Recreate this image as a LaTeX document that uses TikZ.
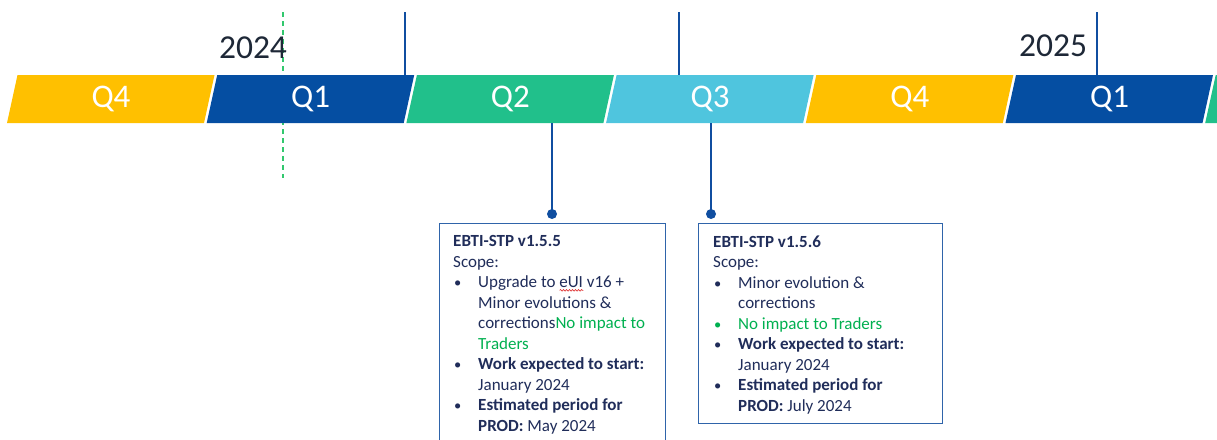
\documentclass[tikz,border=0pt]{standalone}
\usepackage{fontspec}
\setmainfont{Carlito}
\usetikzlibrary{decorations.pathmorphing}
\definecolor{qyellow}{RGB}{255,192,0}
\definecolor{qblue}{RGB}{5,78,162}
\definecolor{qgreen}{RGB}{33,192,139}
\definecolor{qcyan}{RGB}{79,197,222}
\definecolor{linecol}{RGB}{16,78,160}
\definecolor{dashgreen}{RGB}{50,200,110}
\definecolor{boxcol}{RGB}{47,100,170}
\definecolor{navy}{RGB}{32,45,90}
\definecolor{yearcol}{RGB}{30,40,55}
\definecolor{okgreen}{RGB}{0,176,80}
\definecolor{spellred}{RGB}{220,30,30}
\newsavebox{\spbox}
\newcommand{\spellerr}[1]{\sbox{\spbox}{#1}\rlap{\tikz[baseline=0pt]\draw[spellred,line width=0.6pt,decorate,decoration={snake,amplitude=0.8pt,segment length=3pt}] (0pt,-2.5pt) -- (\wd\spbox,-2.5pt);}#1}
\newcommand{\bitem}[1]{\makebox[25pt][l]{\hspace{1pt}{\fontsize{14.5}{14.5}\selectfont•}}#1}
\newcommand{\cont}[1]{\hspace*{25pt}#1}
\begin{document}
\begin{tikzpicture}[x=1pt,y=-1pt,
  qlabel/.style={text=white,font=\fontsize{33}{33}\selectfont,inner sep=0pt},
  yearlabel/.style={text=yearcol,font=\fontsize{33.5}{33}\selectfont,inner sep=0pt},
  tick/.style={draw=linecol,line width=2pt},
  dashline/.style={draw=dashgreen,line width=1.6pt,dash pattern=on 5pt off 4pt},
  dot/.style={circle,fill=linecol,inner sep=0pt,minimum size=10pt},
  infobox/.style={draw=boxcol,line width=1.4pt,fill=white,anchor=north west,inner sep=0pt},
  boxtext/.style={anchor=north west,inner sep=0pt,align=left,text=navy,font=\fontsize{17}{20.5}\selectfont}
]
\useasboundingbox (0,0) rectangle (1217,439);
\clip (0,0) rectangle (1217,439);
% green dashed year marker
\coordinate (g1) at (283,12);
\coordinate (g2) at (283,178);
\draw[dashline] (g1) -- (g2);
% quarter bar
\foreach \i/\c in {0/qyellow,1/qblue,2/qgreen,3/qcyan,4/qyellow,5/qblue,6/qgreen}{
  \pgfmathsetmacro\a{17.5+199.7*\i}
  \fill[\c] (\a,75) -- (\a+197,75) -- (\a+186.5,123) -- (\a-10.5,123) -- cycle;
}
\node[qlabel] (q0) at (111,99) {Q4};
\node[qlabel] (q1) at (310.7,99) {Q1};
\node[qlabel] (q2) at (510.4,99) {Q2};
\node[qlabel] (q3) at (710.1,99) {Q3};
\node[qlabel] (q4) at (909.8,99) {Q4};
\node[qlabel] (q5) at (1109.5,99) {Q1};
% years
\node[yearlabel] (y24) at (253,48) {2024};
\node[yearlabel] (y25) at (1053,46) {2025};
% top ticks
\coordinate (t1a) at (405,12); \coordinate (t1b) at (405,75);
\coordinate (t2a) at (679,12); \coordinate (t2b) at (679,75);
\coordinate (t3a) at (1097,12); \coordinate (t3b) at (1097,75);
\draw[tick] (t1a) -- (t1b);
\draw[tick] (t2a) -- (t2b);
\draw[tick] (t3a) -- (t3b);
% boxes
\node[infobox,minimum width=226pt,minimum height=224pt] (box1) at (439,223) {};
\node[infobox,minimum width=244pt,minimum height=200pt] (box2) at (698,223) {};
\node[boxtext] (txt1) at (453,235.5) {\textbf{EBTI-STP v1.5.5}\\
Scope:\\
\bitem{Upgrade to \spellerr{eUI} v16 +}\\
\cont{Minor evolutions \&}\\
\cont{corrections\textcolor{okgreen}{No impact to}}\\
\cont{\textcolor{okgreen}{Traders}}\\
\bitem{\textbf{Work expected to start:}}\\
\cont{January 2024}\\
\bitem{\textbf{Estimated period for}}\\
\cont{\textbf{PROD:} May 2024}};
\node[boxtext] (txt2) at (713,235.5) {\textbf{EBTI-STP v1.5.6}\\
Scope:\\
\bitem{Minor evolution \&}\\
\cont{corrections}\\
{\color{okgreen}\bitem{No impact to Traders}}\\
\bitem{\textbf{Work expected to start:}}\\
\cont{January 2024}\\
\bitem{\textbf{Estimated period for}}\\
\cont{\textbf{PROD:} July 2024}};
% connectors to boxes
\coordinate (c1) at (552,123);
\coordinate (c2) at (711,123);
\node[dot] (d1) at (552,214) {};
\node[dot] (d2) at (711,214) {};
\draw[tick] (c1) -- (d1.center);
\draw[tick] (c2) -- (d2.center);
\end{tikzpicture}
\end{document}
